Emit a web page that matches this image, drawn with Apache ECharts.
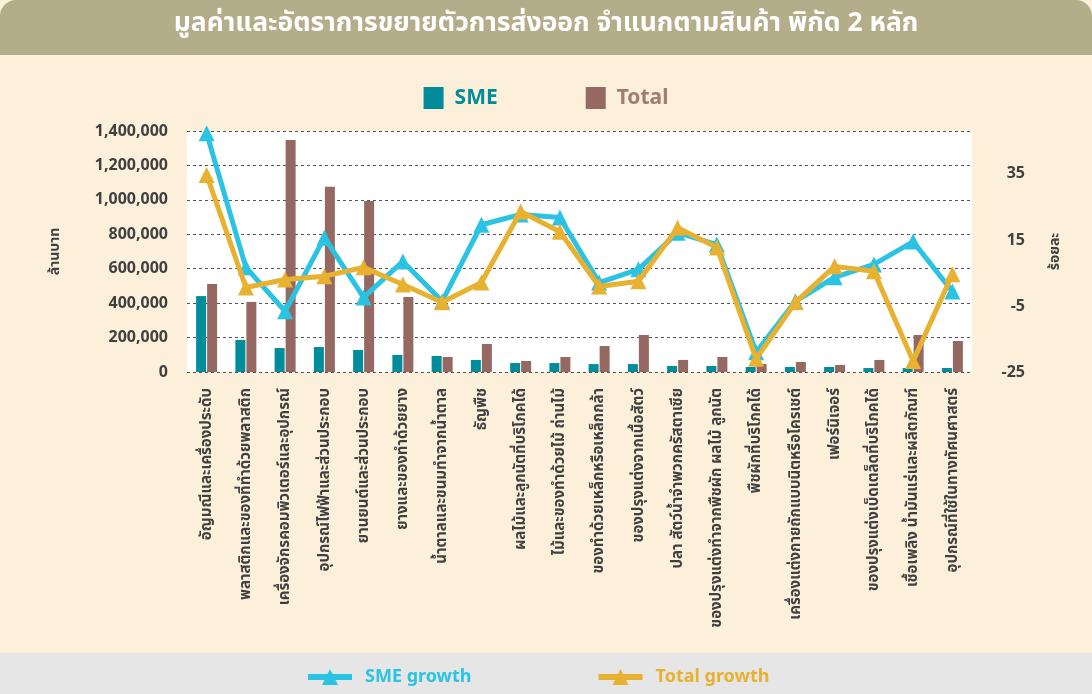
<!DOCTYPE html>
<html>
<head>
<meta charset="utf-8">
<script src="https://cdn.jsdelivr.net/npm/echarts@6/dist/echarts.min.js"></script>
<style>
html,body{margin:0;padding:0;background:#fcf0da;}
#main{width:1092px;height:694px;}
</style>
</head>
<body>
<div id="main"></div>
<script>
var categories = [
	'อัญมณีและเครื่องประดับ',
	'พลาสติกและของที่ทำด้วยพลาสติก',
	'เครื่องจักรคอมพิวเตอร์และอุปกรณ์',
	'อุปกรณ์ไฟฟ้าและส่วนประกอบ',
	'ยานยนต์และส่วนประกอบ',
	'ยางและของทำด้วยยาง',
	'น้ำตาลและขนมทำจากน้ำตาล',
	'ธัญพืช',
	'ผลไม้และลูกนัตที่บริโภคได้',
	'ไม้และของทำด้วยไม้ ถ่านไม้',
	'ของทำด้วยเหล็กหรือเหล็กกล้า',
	'ของปรุงแต่งจากเนื้อสัตว์',
	'ปลา สัตว์น้ำจำพวกครัสตาเซีย',
	'ของปรุงแต่งทำจากพืชผัก ผลไม้ ลูกนัต',
	'พืชผักที่บริโภคได้',
	'เครื่องแต่งกายถักแบบนิตหรือโครเชต์',
	'เฟอร์นิเจอร์',
	'ของปรุงแต่งเบ็ดเตล็ดที่บริโภคได้',
	'เชื้อเพลิง น้ำมันแร่และผลิตภัณฑ์',
	'อุปกรณ์ที่ใช้ในทางทัศนศาสตร์'
];
var smeValue = [441000,186000,139000,145000,128000,99000,93000,70000,52000,52000,46000,46000,35000,35000,29000,29000,29000,23000,23000,23000];
var totalValue = [511000,407000,1348000,1076000,993000,436000,87000,163000,64000,87000,151000,215000,70000,87000,46000,58000,41000,70000,215000,180000];
var smeGrowth = [47.3,6.7,-6.6,15.7,-2.4,8.5,-3.6,19.6,22.7,21.8,2.1,6.1,17.2,13.6,-19,-3.6,3.7,7.6,14.5,-0.6];
var totalGrowth = [34.7,0.6,3,4,6.7,1.5,-3.9,2.1,23.6,17.5,0.9,2.5,18.7,12.7,-21,-3.9,7,5.5,-21.7,4.6];
var rightTicks = [-25,-5,15,35];

var FONT = '"Noto Sans", "Noto Sans Thai", "Open Sans", sans-serif';

var myChart = echarts.init(document.getElementById('main'));
var option = {
	backgroundColor: '#fcf0da',
	textStyle: {fontFamily: FONT},
	graphic: [
		{type: 'rect', left: 0, top: 0, shape: {width: 1092, height: 55, r: [16,16,0,0]}, style: {fill: '#b3ad89'}, z: -1},
		{type: 'text', left: 'center', top: 10, style: {text: 'มูลค่าและอัตราการขยายตัวการส่งออก จำแนกตามสินค้า พิกัด 2 หลัก', fill: '#fff', font: 'bold 26.5px ' + FONT}},
		{type: 'rect', left: 0, top: 653, shape: {width: 1092, height: 41}, style: {fill: '#e6e6e6'}, z: -1}
	],
	legend: [
		{
			data: [
				{name: 'SME', textStyle: {color: '#008c9a'}},
				{name: 'Total', textStyle: {color: '#a07c72'}}
			],
			top: 82, left: 'center', icon: 'rect',
			itemWidth: 20, itemHeight: 22, itemGap: 88,
			textStyle: {fontSize: 21, fontWeight: 'bold', fontFamily: FONT, padding: [0,0,0,6]}
		},
		{
			data: [
				{name: 'SME growth', textStyle: {color: '#2bc3e3'}},
				{name: 'Total growth', textStyle: {color: '#e8b130'}}
			],
			top: 663, left: 300,
			itemWidth: 44, itemHeight: 20, itemGap: 124,
			lineStyle: {width: 6},
			textStyle: {fontSize: 18, fontWeight: 'bold', fontFamily: FONT, padding: [0,0,0,8]}
		}
	],
	grid: {
		left: 187, right: 120, top: 131, bottom: 322,
		show: true, backgroundColor: '#fff', borderWidth: 0
	},
	xAxis: [{
		type: 'category',
		data: categories,
		axisLine: {show: false},
		axisTick: {show: false},
		axisLabel: {rotate: 90, interval: 0, margin: 16, fontSize: 15, fontWeight: 'bold', color: '#404040', fontFamily: FONT}
	}],
	yAxis: [
		{
			type: 'value',
			min: 0, max: 1400000, interval: 200000,
			name: 'ล้านบาท', nameLocation: 'middle', nameGap: 125, nameRotate: 90,
			nameTextStyle: {fontSize: 14, fontWeight: 'bold', color: '#404040'},
			axisLine: {show: false}, axisTick: {show: false},
			axisLabel: {fontSize: 16, fontWeight: 'bold', color: '#404040', margin: 19,
				formatter: function (v) { return v.toLocaleString('en-US'); }},
			splitLine: {lineStyle: {type: [3,3], color: '#555', width: 1}}
		},
		{
			type: 'value',
			min: -25, max: 48, interval: 20,
			position: 'right',
			name: 'ร้อยละ', nameLocation: 'middle', nameGap: 76, nameRotate: 90,
			nameTextStyle: {fontSize: 14, fontWeight: 'bold', color: '#404040'},
			axisLine: {show: false}, axisTick: {show: false},
			axisLabel: {fontSize: 16, fontWeight: 'bold', color: '#404040', margin: 53, align: 'right',
				formatter: function (v) { return rightTicks.indexOf(v) >= 0 ? String(v) : ''; }},
			splitLine: {show: false}
		}
	],
	series: [
		{
			name: 'SME', type: 'bar', data: smeValue,
			barWidth: 10, barGap: '10%',
			itemStyle: {color: '#008c9a'}
		},
		{
			name: 'Total', type: 'bar', data: totalValue,
			barWidth: 10,
			itemStyle: {color: '#956961'}
		},
		{
			name: 'SME growth', type: 'line', yAxisIndex: 1, data: smeGrowth,
			symbol: 'triangle', symbolSize: 16, showAllSymbol: true,
			lineStyle: {color: '#2bc3e3', width: 5},
			itemStyle: {color: '#2bc3e3'},
			z: 3
		},
		{
			name: 'Total growth', type: 'line', yAxisIndex: 1, data: totalGrowth,
			symbol: 'triangle', symbolSize: 16, showAllSymbol: true,
			lineStyle: {color: '#e8b130', width: 5},
			itemStyle: {color: '#e8b130'},
			z: 4
		}
	]
};
myChart.setOption(option);
</script>
</body>
</html>
